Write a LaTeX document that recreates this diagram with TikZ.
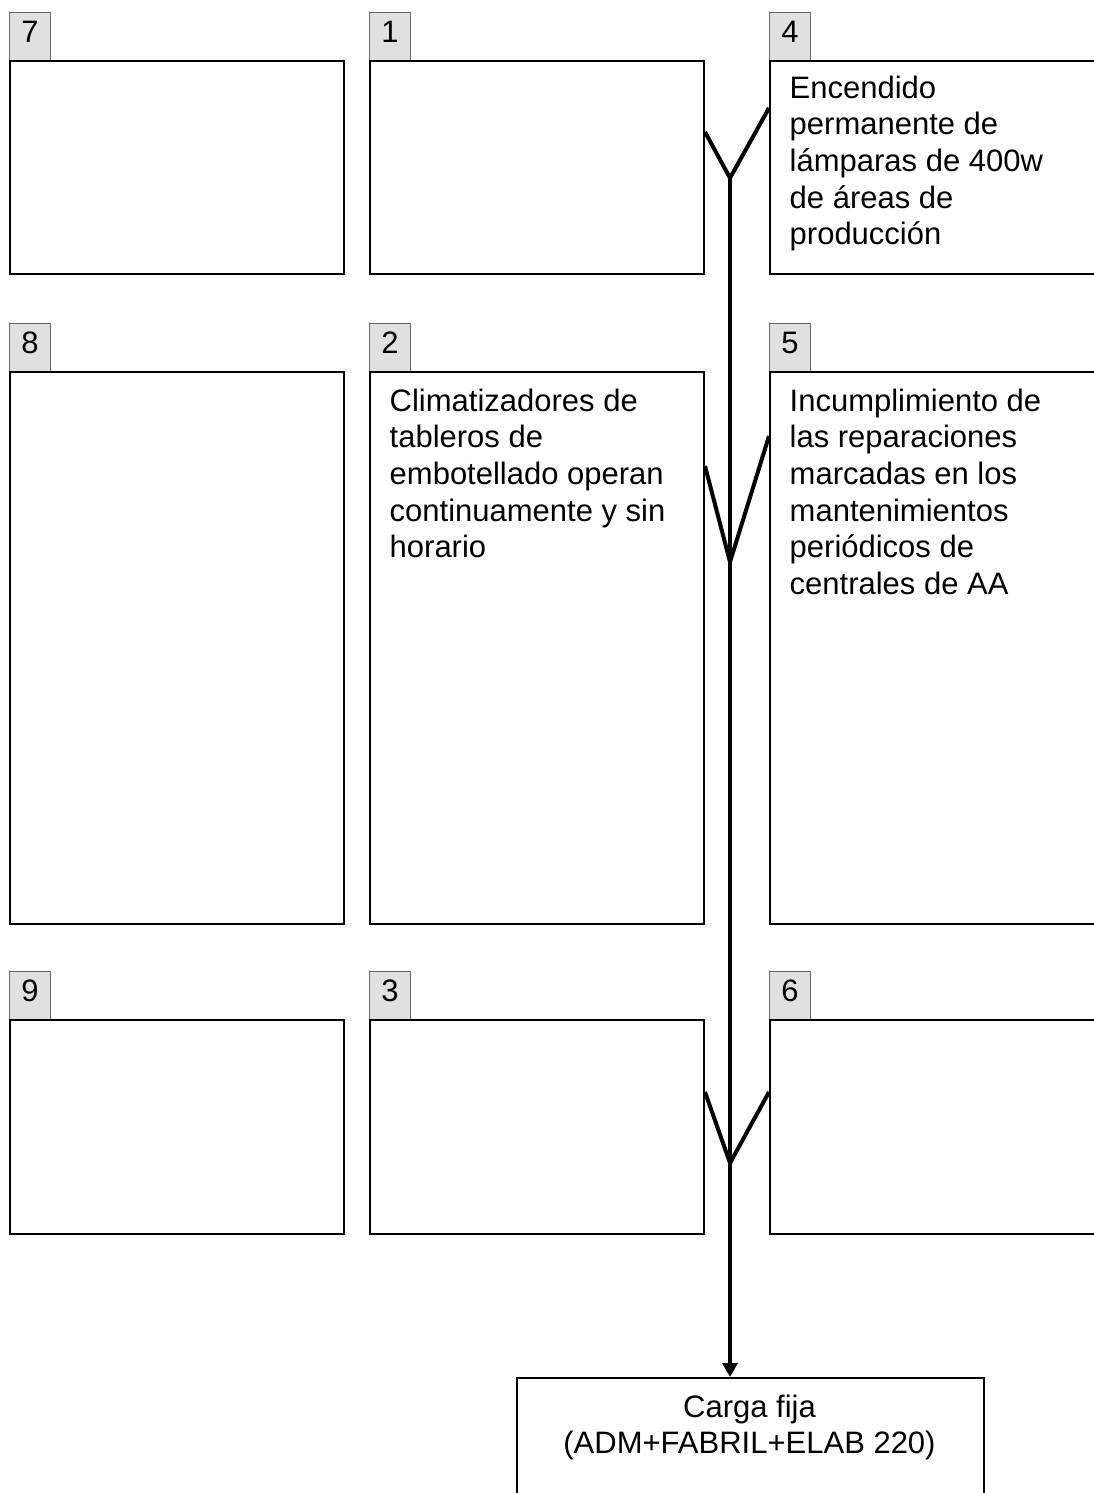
\documentclass[tikz,border=0pt]{standalone}
\usepackage{fontspec}
\setmainfont{Liberation Sans}
\usetikzlibrary{arrows.meta,calc}
\begin{document}
\begin{tikzpicture}[x=1pt,y=-1pt,
  box/.style={draw=black,line width=2pt,rectangle,anchor=north west,inner sep=0pt},
  tab/.style={draw=black!60,fill=black!12,line width=1.2pt,rectangle,anchor=north west,inner sep=0pt,
    minimum width=41pt,minimum height=48pt,text height=22pt,text depth=10pt,
    font=\fontsize{31}{36.7}\selectfont},
  txt/.style={anchor=north west,inner sep=0pt,align=left,font=\fontsize{31}{36.7}\selectfont},
  arm/.style={line width=4pt,line join=round},
  spine/.style={line width=4pt}]
\useasboundingbox (0,0) rectangle (1094,1493);
\clip (0,0) rectangle (1094,1493);

% tabs
\node[tab] (t7) at (9,12) {7};
\node[tab] (t1) at (369,12) {1};
\node[tab] (t4) at (769,12) {4};
\node[tab] (t8) at (9,323) {8};
\node[tab] (t2) at (369,323) {2};
\node[tab] (t5) at (769,323) {5};
\node[tab] (t9) at (9,971) {9};
\node[tab] (t3) at (369,971) {3};
\node[tab] (t6) at (769,971) {6};

% boxes
\node[box,minimum width=334pt,minimum height=213pt] (b7) at (9,60) {};
\node[box,minimum width=334pt,minimum height=213pt] (b1) at (369,60) {};
\node[box,minimum width=360pt,minimum height=213pt] (b4) at (769,60) {};
\node[box,minimum width=334pt,minimum height=552pt] (b8) at (9,371) {};
\node[box,minimum width=334pt,minimum height=552pt] (b2) at (369,371) {};
\node[box,minimum width=360pt,minimum height=552pt] (b5) at (769,371) {};
\node[box,minimum width=334pt,minimum height=214pt] (b9) at (9,1019) {};
\node[box,minimum width=334pt,minimum height=214pt] (b3) at (369,1019) {};
\node[box,minimum width=360pt,minimum height=214pt] (b6) at (769,1019) {};
\node[box,minimum width=467pt,minimum height=200pt] (carga) at (516,1377) {};

% texts
\node[txt] (x4) at (789.5,72.3) {\strut Encendido\\permanente de\\lámparas de 400w\\de áreas de\\producción};
\node[txt] (x2) at (389.5,385.3) {\strut Climatizadores de\\tableros de\\embotellado operan\\continuamente y sin\\horario};
\node[txt] (x5) at (789.5,385.3) {\strut Incumplimiento de\\las reparaciones\\marcadas en los\\mantenimientos\\periódicos de\\centrales de AA};
\node[txt,anchor=north,align=center] (xc) at (749.5,1391.3) {\strut Carga fija\\(ADM+FABRIL+ELAB 220)};

% fishbone
\coordinate (v1) at (730,178);
\coordinate (v2) at (730,562);
\coordinate (v3) at (730,1163);
\draw[arm] ($(b1.north east)+(0,72)$) -- (v1) -- ($(b4.north west)+(0,48)$);
\draw[arm] ($(b2.north east)+(0,95)$) -- (v2) -- ($(b5.north west)+(0,65)$);
\draw[arm] ($(b3.north east)+(0,73)$) -- (v3) -- ($(b6.north west)+(0,73)$);
\draw[spine,-{Triangle[length=14pt,width=15pt]}] (v1) -- (v1 |- carga.north);
\end{tikzpicture}
\end{document}
